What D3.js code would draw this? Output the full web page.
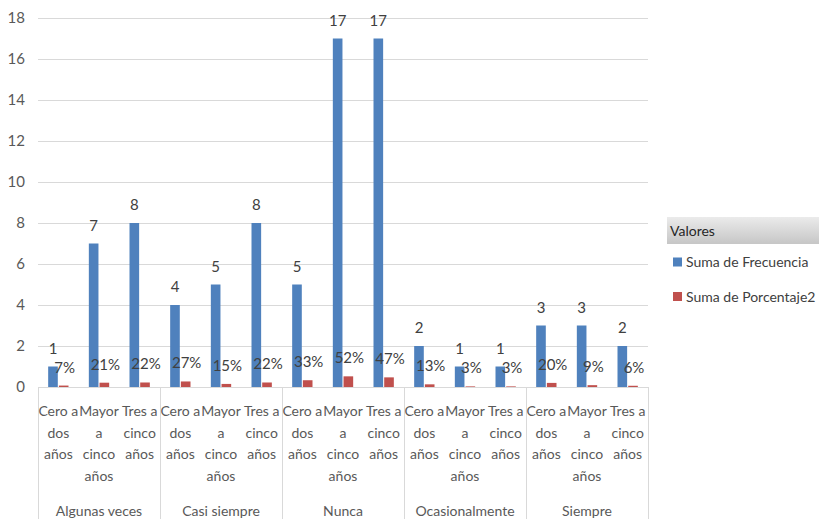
<!DOCTYPE html>
<html>
<head>
<meta charset="utf-8">
<script src="https://cdn.jsdelivr.net/npm/d3@7"></script>
<style>
  html, body { margin: 0; padding: 0; background: #fff; }
  svg { display: block; font-family: Lato, "Open Sans", sans-serif; }
</style>
</head>
<body>
<svg id="chart" width="819" height="519"></svg>
<script>
// Outer categories (frequency answer) and inner categories (seniority)
const groups = ["Algunas veces", "Casi siempre", "Nunca", "Ocasionalmente", "Siempre"];
const subcats = ["Cero a dos años", "Mayor a cinco años", "Tres a cinco años"];
// Wrapped lines for the inner category labels
const subcatLines = [["Cero a", "dos", "años"], ["Mayor", "a", "cinco", "años"], ["Tres a", "cinco", "años"]];

// Series values, in group order, three per group
const frecuencia = [1, 7, 8, 4, 5, 8, 5, 17, 17, 2, 1, 1, 3, 3, 2];
const porcentaje = [0.07, 0.21, 0.22, 0.27, 0.15, 0.22, 0.33, 0.52, 0.47, 0.13, 0.03, 0.03, 0.20, 0.09, 0.06];

const seriesNames = ["Suma de Frecuencia", "Suma de Porcentaje2"];
const seriesColors = ["#4f81bd", "#c0504d"];
const yTicks = [0, 2, 4, 6, 8, 10, 12, 14, 16, 18];

const svg = d3.select("#chart");
const plotLeft = 38, plotRight = 648, plotTop = 18, plotBottom = 387;

const y = d3.scaleLinear().domain([0, 18]).range([plotBottom, plotTop]);
const xGroup = d3.scaleBand().domain(groups).range([plotLeft, plotRight]).padding(0);
const xSub = d3.scaleBand().domain(subcats).range([0, xGroup.bandwidth()]).padding(0);
const xSeries = d3.scaleBand().domain(seriesNames)
  .range([xSub.bandwidth() * 0.25, xSub.bandwidth() * 0.75]).paddingInner(0.1);

// Horizontal gridlines
svg.append("g").selectAll("line").data(yTicks.filter(t => t > 0)).join("line")
  .attr("x1", plotLeft).attr("x2", plotRight)
  .attr("y1", d => y(d) + 0.5).attr("y2", d => y(d) + 0.5)
  .attr("stroke", "#d9d9d9").attr("stroke-width", 1);

// Y axis tick labels
const yAxis = d3.axisLeft(y).tickValues(yTicks).tickSize(0).tickPadding(0);
const yg = svg.append("g").attr("transform", "translate(25,0)").call(yAxis);
yg.select(".domain").remove();
yg.selectAll("text").attr("font-size", 15).attr("fill", "#595959")
  .attr("font-family", "Lato, 'Open Sans', sans-serif");

// Flatten into rows
const rows = [];
groups.forEach((g, gi) => subcats.forEach((s, si) => {
  const i = gi * 3 + si;
  rows.push({ g, s, si, vals: [frecuencia[i], porcentaje[i]] });
}));

const slotX = d => xGroup(d.g) + xSub(d.s);

// Bars
const barG = svg.append("g");
rows.forEach(r => {
  r.vals.forEach((v, k) => {
    barG.append("rect")
      .attr("x", slotX(r) + xSeries(seriesNames[k]))
      .attr("y", y(v))
      .attr("width", xSeries.bandwidth())
      .attr("height", plotBottom - y(v))
      .attr("fill", seriesColors[k]);
  });
});

// Axis baseline
svg.append("line").attr("x1", plotLeft).attr("x2", plotRight)
  .attr("y1", plotBottom + 0.5).attr("y2", plotBottom + 0.5)
  .attr("stroke", "#d9d9d9");

// Group separators spanning both category levels
svg.append("g").selectAll("line").data(groups.concat(["__end"])).join("line")
  .attr("x1", d => (d === "__end" ? plotRight : xGroup(d)) + 0.5)
  .attr("x2", d => (d === "__end" ? plotRight : xGroup(d)) + 0.5)
  .attr("y1", plotBottom).attr("y2", 519)
  .attr("stroke", "#d9d9d9");

// Data labels
const labelG = svg.append("g").attr("font-size", 15).attr("fill", "#404040").attr("text-anchor", "middle");
rows.forEach(r => {
  r.vals.forEach((v, k) => {
    labelG.append("text")
      .attr("x", slotX(r) + xSeries(seriesNames[k]) + xSeries.bandwidth() / 2 + (k === 1 ? 1 : 0))
      .attr("y", y(v) - 13)
      .text(k === 0 ? d3.format("d")(v) : d3.format(".0%")(v));
  });
});

// Inner category labels
const catG = svg.append("g").attr("font-size", 14).attr("fill", "#595959").attr("text-anchor", "middle");
rows.forEach(r => {
  subcatLines[r.si].forEach((line, li) => {
    catG.append("text")
      .attr("x", slotX(r) + xSub.bandwidth() / 2)
      .attr("y", 416 + li * 21.7)
      .text(line);
  });
});

// Outer category labels
svg.append("g").attr("font-size", 14).attr("fill", "#595959").attr("text-anchor", "middle")
  .selectAll("text").data(groups).join("text")
  .attr("x", d => xGroup(d) + xGroup.bandwidth() / 2)
  .attr("y", 516)
  .text(d => d);

// Legend
const defs = svg.append("defs");
const grad = defs.append("linearGradient").attr("id", "hdr").attr("x1", 0).attr("x2", 0).attr("y1", 0).attr("y2", 1);
grad.append("stop").attr("offset", "0%").attr("stop-color", "#ebebeb");
grad.append("stop").attr("offset", "100%").attr("stop-color", "#c6c6c6");

const legend = svg.append("g");
legend.append("rect").attr("x", 667).attr("y", 217).attr("width", 152).attr("height", 27).attr("fill", "url(#hdr)");
legend.append("text").attr("x", 670).attr("y", 236).attr("font-size", 14).attr("fill", "#262626").text("Valores");

seriesNames.forEach((name, k) => {
  const cy = 262 + k * 34.5;
  legend.append("rect").attr("x", 673).attr("y", cy - 4.5).attr("width", 9).attr("height", 9).attr("fill", seriesColors[k]);
  legend.append("text").attr("x", 686).attr("y", cy + 5).attr("font-size", 14).attr("fill", "#404040").text(name);
});
</script>
</body>
</html>
